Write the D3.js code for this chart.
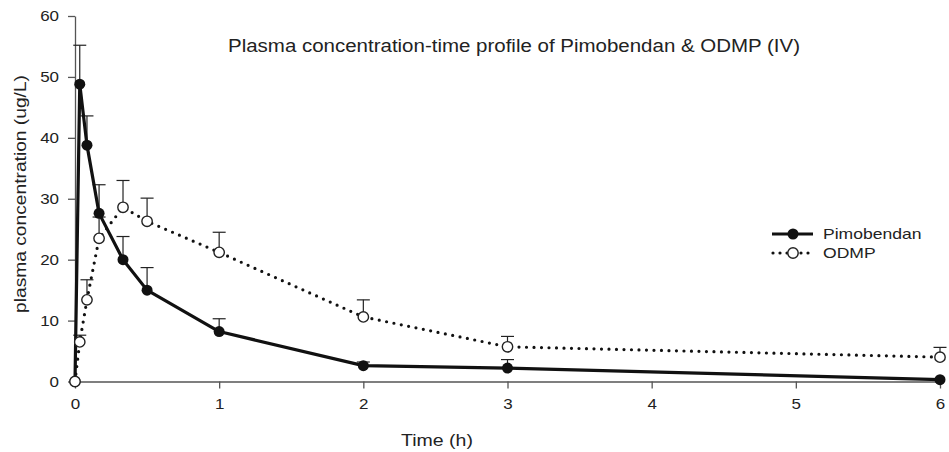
<!DOCTYPE html>
<html><head><meta charset="utf-8">
<script src="https://cdn.jsdelivr.net/npm/d3@7"></script>
<style>
body{margin:0;background:#fff;}
svg{display:block;font-family:"Liberation Sans",Arial,sans-serif;}
</style></head>
<body><svg id="chart" width="949" height="452"></svg>
<script>
const times = [0, 0.033, 0.083, 0.167, 0.333, 0.5, 1, 2, 3, 6];
const pimobendan = [0, 48.8, 38.8, 27.6, 20.0, 15.0, 8.2, 2.6, 2.2, 0.3];
const pimobendanUpper = [null, 55.2, 43.6, 32.3, 23.8, 18.7, 10.3, 3.2, 3.6, null];
const odmp = [0, 6.5, 13.4, 23.5, 28.6, 26.3, 21.2, 10.6, 5.7, 4.0];
const odmpUpper = [null, 7.6, 16.7, 27.0, 33.0, 30.1, 24.5, 13.4, 7.4, 5.6];
const xTicks = [0, 1, 2, 3, 4, 5, 6];
const yTicks = [0, 10, 20, 30, 40, 50, 60];
const title = "Plasma concentration-time profile of Pimobendan & ODMP (IV)";
const xTitle = "Time (h)";
const yTitle = "plasma concentration (ug/L)";
const seriesNames = ["Pimobendan", "ODMP"];

const svg = d3.select("#chart");
const x = d3.scaleLinear().domain([0, 6]).range([75, 940]);
const y = d3.scaleLinear().domain([0, 60]).range([381.5, 16]);
const stretch = 1.17;
function widen(sel, s){
  sel.each(function(){
    const w = this.getComputedTextLength();
    this.setAttribute("textLength", w * (s || stretch));
    this.setAttribute("lengthAdjust", "spacingAndGlyphs");
  });
}

// axes
const ax = svg.append("g").attr("transform", "translate(0,381.5)")
  .call(d3.axisBottom(x).tickValues(xTicks).tickFormat(d3.format("d")).tickSize(7).tickSizeOuter(0).tickPadding(10));
const ay = svg.append("g").attr("transform", "translate(75,0)")
  .call(d3.axisLeft(y).tickValues(yTicks).tickFormat(d3.format("d")).tickSize(7).tickSizeOuter(0).tickPadding(9));
[ax, ay].forEach(a => {
  a.select(".domain").attr("stroke", "#555").attr("stroke-width", 1.3);
  a.selectAll(".tick line").attr("stroke", "#555").attr("stroke-width", 1.3);
  a.selectAll(".tick text").attr("fill", "#222").attr("font-size", 14.5)
    .attr("font-family", "Liberation Sans, Arial, sans-serif");
  widen(a.selectAll(".tick text"));
});

// error bars
function errorBars(vals, ups){
  const g = svg.append("g").attr("stroke", "#222").attr("stroke-width", 1.2).attr("fill", "none");
  times.forEach((t, i) => {
    if (ups[i] == null) return;
    g.append("line").attr("x1", x(t)).attr("x2", x(t)).attr("y1", y(vals[i])).attr("y2", y(ups[i]));
    g.append("line").attr("x1", x(t) - 6.5).attr("x2", x(t) + 6.5).attr("y1", y(ups[i])).attr("y2", y(ups[i]));
  });
}
errorBars(pimobendan, pimobendanUpper);
errorBars(odmp, odmpUpper);

const line = d3.line().x(d => x(d[0])).y(d => y(d[1]));
const pData = times.map((t, i) => [t, pimobendan[i]]);
const oData = times.map((t, i) => [t, odmp[i]]);

svg.append("path").datum(oData).attr("d", line).attr("fill", "none")
  .attr("stroke", "#111").attr("stroke-width", 3.2).attr("stroke-linecap", "round")
  .attr("stroke-dasharray", "0,7.5");
svg.append("path").datum(pData).attr("d", line).attr("fill", "none")
  .attr("stroke", "#111").attr("stroke-width", 3.2).attr("stroke-linejoin", "round");

svg.append("g").selectAll("circle").data(pData).join("circle")
  .attr("cx", d => x(d[0])).attr("cy", d => y(d[1])).attr("r", 5.5)
  .attr("fill", "#111");
svg.append("g").selectAll("circle").data(oData).join("circle")
  .attr("cx", d => x(d[0])).attr("cy", d => y(d[1])).attr("r", 5.2)
  .attr("fill", "#fff").attr("stroke", "#222").attr("stroke-width", 1.4);

// legend
const lg = svg.append("g");
lg.append("line").attr("x1", 772).attr("x2", 813).attr("y1", 234).attr("y2", 234)
  .attr("stroke", "#111").attr("stroke-width", 3);
lg.append("circle").attr("cx", 793).attr("cy", 234).attr("r", 5.5).attr("fill", "#111");
lg.append("line").attr("x1", 773).attr("x2", 813).attr("y1", 253).attr("y2", 253)
  .attr("stroke", "#111").attr("stroke-width", 3.2).attr("stroke-linecap", "round").attr("stroke-dasharray", "0,7");
lg.append("circle").attr("cx", 793).attr("cy", 253).attr("r", 5.2).attr("fill", "#fff").attr("stroke", "#222").attr("stroke-width", 1.4);
const lt = lg.selectAll("text.leg").data(seriesNames).join("text").attr("class", "leg")
  .attr("x", 823).attr("y", (d, i) => 239 + i * 19).attr("font-size", 15).attr("fill", "#222").text(d => d);
widen(lt);

// titles
const tt = svg.append("text").attr("x", 228).attr("y", 52).attr("font-size", 17.5).attr("fill", "#222").text(title);
widen(tt);
const xt = svg.append("text").attr("x", 437).attr("y", 446).attr("text-anchor", "middle").attr("font-size", 16).attr("fill", "#222").text(xTitle);
widen(xt, 1.22);
const yt = svg.append("text").attr("transform", "translate(26,194) rotate(-90)").attr("text-anchor", "middle")
  .attr("font-size", 17).attr("fill", "#222").text(yTitle)
  .attr("textLength", 238).attr("lengthAdjust", "spacingAndGlyphs");
</script>
</body></html>
